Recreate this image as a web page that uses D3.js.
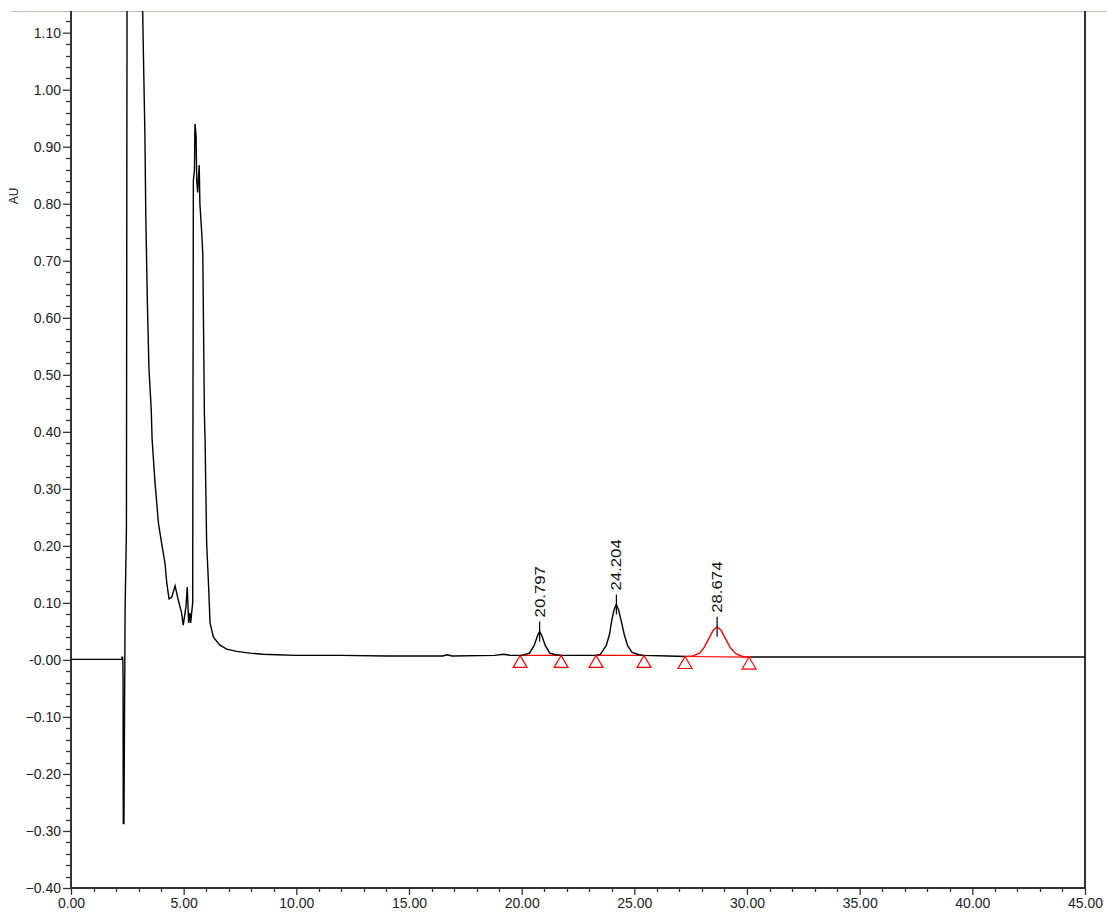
<!DOCTYPE html>
<html><head><meta charset="utf-8">
<script src="https://cdn.jsdelivr.net/npm/d3@7"></script>
<style>body{margin:0;background:#fff}svg{display:block}text{font-family:"Liberation Sans",Arial,sans-serif}</style>
</head><body><svg id="c" width="1107" height="915"></svg>
<script>
// ---- data ----
const traceTime = [0,1,2,2.25,2.28,2.30,2.31,2.32,2.35,2.40,2.46,2.50,2.8,3.15,3.18,3.21,3.28,3.32,3.39,3.46,3.56,3.60,3.73,3.88,4.02,4.17,4.25,4.35,4.47,4.62,4.76,4.91,4.98,5.10,5.16,5.22,5.28,5.31,5.40,5.43,5.48,5.50,5.55,5.58,5.62,5.69,5.72,5.80,5.85,5.92,5.95,6.02,6.10,6.17,6.32,6.61,6.91,7.35,7.94,8.52,9.13,10,12,14,16.5,16.7,16.9,18.8,19.2,19.5,20.0,20.35,20.55,20.7,20.8,20.9,21.05,21.25,21.5,21.8,23.3,23.5,23.75,23.9,24.0,24.1,24.2,24.3,24.42,24.55,24.7,24.9,25.2,25.4,26.5,27.25];
const traceAU = [0.001,0.001,0.001,0.001,0.006,0.0,-0.03,-0.287,-0.287,0.084,0.23,1.6,2.0,1.3,1.14,1.07,0.92,0.777,0.626,0.51,0.44,0.386,0.31,0.24,0.205,0.17,0.135,0.107,0.11,0.13,0.105,0.082,0.061,0.093,0.128,0.065,0.082,0.065,0.10,0.84,0.86,0.94,0.92,0.84,0.82,0.868,0.80,0.75,0.71,0.43,0.386,0.205,0.135,0.065,0.04,0.026,0.019,0.015,0.012,0.010,0.009,0.008,0.008,0.007,0.007,0.009,0.007,0.008,0.010,0.008,0.008,0.012,0.025,0.042,0.050,0.042,0.025,0.012,0.009,0.008,0.008,0.010,0.025,0.045,0.070,0.088,0.097,0.088,0.068,0.045,0.025,0.013,0.009,0.008,0.007,0.006];
const tailTime = [30.14,33,36,40,45];
const tailAU = [0.005,0.005,0.005,0.005,0.005];
const redTime = [27.25,27.6,27.9,28.1,28.3,28.5,28.67,28.85,29.05,29.25,29.5,29.8,30.14];
const redAU = [0.006,0.007,0.012,0.022,0.037,0.052,0.058,0.052,0.037,0.022,0.011,0.006,0.005];
const peakLabels = ["20.797","24.204","28.674"];
const peakTime = [20.797,24.204,28.674];
const peakAU = [0.050,0.097,0.058];
const markerTime = [19.93,21.75,23.30,25.43,27.25,30.09];
const markerAU = [0.008,0.008,0.008,0.008,0.006,0.005];
const xTicks = [0,5,10,15,20,25,30,35,40,45];
const yTicks = [-0.4,-0.3,-0.2,-0.1,0,0.1,0.2,0.3,0.4,0.5,0.6,0.7,0.8,0.9,1.0,1.1];

// ---- layout ----
const svg = d3.select("#c");
const L=71, R=1085, T=11, B=888;
const x = d3.scaleLinear().domain([0,45]).range([L,R]);
const y = d3.scaleLinear().domain([-0.4,1.1]).range([B,32.7]);

svg.append("defs").append("clipPath").attr("id","clip")
  .append("rect").attr("x",L).attr("y",T).attr("width",R-L).attr("height",B-T);

// top border
svg.append("line").attr("x1",11).attr("x2",1107).attr("y1",T+0.5).attr("y2",T+0.5)
  .attr("stroke","#b4bfd8").attr("stroke-width",1.2);

// minor ticks
const yMinor = d3.range(-0.40,1.131,0.02).filter(v=>Math.abs(Math.round(v*10)-v*10)>1e-6);
const xMinor = d3.range(0,45.01,1).filter(v=>v%5!==0);
svg.append("g").selectAll("line").data(yMinor).join("line")
  .attr("x1",L-5).attr("x2",L).attr("y1",d=>Math.round(y(d))+0.5).attr("y2",d=>Math.round(y(d))+0.5)
  .attr("stroke","#333").attr("stroke-width",1.3);
svg.append("g").selectAll("line").data(xMinor).join("line")
  .attr("x1",d=>Math.round(x(d))+0.5).attr("x2",d=>Math.round(x(d))+0.5).attr("y1",B).attr("y2",B+4)
  .attr("stroke","#333").attr("stroke-width",1.3);

// axes
const yAxis = d3.axisLeft(y).tickValues(yTicks).tickFormat(d3.format(".2f")).tickSize(8).tickPadding(2);
const gy = svg.append("g").attr("transform",`translate(${L},0)`).call(yAxis);
const xAxis = d3.axisBottom(x).tickValues(xTicks).tickFormat(d3.format(".2f")).tickSize(7).tickPadding(3);
const gx = svg.append("g").attr("transform",`translate(0,${B})`).call(xAxis);
[gx,gy].forEach(g=>{
  g.select(".domain").remove();
  g.selectAll(".tick line").attr("stroke","#333").attr("stroke-width",1.3);
  g.selectAll("text").attr("font-size",14).attr("fill","#222").attr("font-family","Liberation Sans, Arial, sans-serif");
});
gy.selectAll("text").text(d=> d===0 ? "-0.00" : d3.format(".2f")(d));
// axis lines
svg.append("line").attr("x1",L).attr("x2",L).attr("y1",T).attr("y2",B).attr("stroke","#333").attr("stroke-width",2);
svg.append("line").attr("x1",L).attr("x2",R+1).attr("y1",B).attr("y2",B).attr("stroke","#333").attr("stroke-width",2);
svg.append("line").attr("x1",R).attr("x2",R).attr("y1",T).attr("y2",B).attr("stroke","#333").attr("stroke-width",2);

// AU label
svg.append("text").attr("transform","translate(18,196) rotate(-90)").attr("text-anchor","middle")
  .attr("font-size",12).attr("fill","#222").text("AU");

const line = d3.line().x(d=>x(d[0])).y(d=>y(d[1]));
const plot = svg.append("g").attr("clip-path","url(#clip)");

// red baselines under peaks
const segs = [[0,1],[2,3],[4,5]];
plot.selectAll(".bl").data(segs).join("line")
  .attr("x1",d=>x(markerTime[d[0]])).attr("x2",d=>x(markerTime[d[1]]))
  .attr("y1",d=>y(markerAU[d[0]])).attr("y2",d=>y(markerAU[d[1]]))
  .attr("stroke","#ff0000").attr("stroke-width",1.2);

plot.append("path").datum(traceTime.map((t,i)=>[t,traceAU[i]])).attr("d",line)
  .attr("fill","none").attr("stroke","#000").attr("stroke-width",1.4);
plot.append("path").datum(tailTime.map((t,i)=>[t,tailAU[i]])).attr("d",line)
  .attr("fill","none").attr("stroke","#000").attr("stroke-width",1.4);
plot.append("path").datum(redTime.map((t,i)=>[t,redAU[i]])).attr("d",line)
  .attr("fill","none").attr("stroke","#ff0000").attr("stroke-width",1.4);

// triangles
plot.selectAll(".tri").data(markerTime).join("path")
  .attr("d",(d,i)=>{const px=x(d), py=y(markerAU[i]); return `M${px},${py}L${px+7},${py+12}L${px-7},${py+12}Z`;})
  .attr("fill","none").attr("stroke","#ff0000").attr("stroke-width",1.2);

// peak ticks and labels
plot.selectAll(".pt").data(peakTime).join("line")
  .attr("x1",d=>x(d)).attr("x2",d=>x(d))
  .attr("y1",(d,i)=>y(peakAU[i])-10).attr("y2",(d,i)=>y(peakAU[i])+10)
  .attr("stroke","#000").attr("stroke-width",1.2);
svg.selectAll(".pl").data(peakLabels).join("text")
  .attr("transform",(d,i)=>`translate(${x(peakTime[i])+5},${y(peakAU[i])-14}) rotate(-90) scale(1.2,1)`)
  .attr("font-size",14).attr("fill","#111").text(d=>d);
</script></body></html>
